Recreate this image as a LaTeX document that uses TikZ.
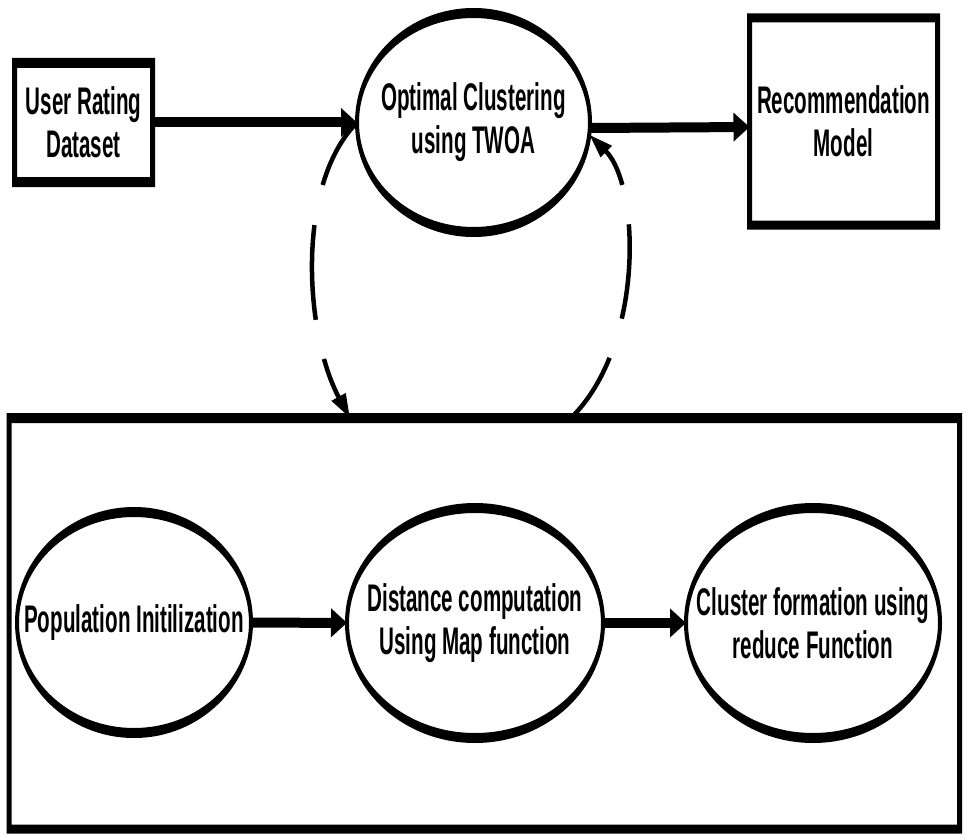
\documentclass[tikz,border=0pt]{standalone}
\usepackage{fontspec}
\usepackage{tikz}
\usetikzlibrary{shapes}
\usetikzlibrary{arrows.meta}
\newfontfamily\diafont{Liberation Sans}[FakeStretch=0.535]
\newcommand{\diagfont}{\diafont\bfseries\fontsize{38.5}{43}\selectfont}
\tikzset{
  boxnode/.style={rectangle, inner sep=0pt, outer sep=0pt, align=center, font=\diagfont},
  ellnode/.style={ellipse, inner xsep=-40pt, inner ysep=0pt, outer sep=0pt, align=center, font=\diagfont},
  flow/.style={-{Triangle[length=16pt,width=28pt]}, line width=10pt},
  loopline/.style={-{Triangle[length=24pt,width=15pt]}, line width=4.5pt,
    dash pattern=on 72pt off 41pt on 95pt off 40pt on 160pt off 10pt},
}
\begin{document}
\begin{tikzpicture}[x=1pt,y=-1pt]
    \useasboundingbox (0,0) rectangle (969,840);
          % top row
          \node [boxnode, minimum width=138pt, minimum height=119pt] (urd) at (83.5,122.5) {User Rating\\Dataset};
          \node [ellnode, minimum width=233pt, minimum height=219pt] (ocl) at (473.5,122.5) {Optimal Clustering\\using TWOA};
          \node [boxnode, minimum width=188pt, minimum height=207pt] (rec) at (843.5,121.5) {Recommendation\\Model};

          % inner process
          \node [boxnode, minimum width=950.5pt, minimum height=411pt] (sub) at (484.25,623.5) {};
          \node [ellnode, minimum width=234pt, minimum height=221pt] (pop) at (134,622.5) {Population Initilization};
          \node [ellnode, minimum width=256pt, minimum height=230pt] (dist) at (475,623) {Distance computation\\Using Map function};
          \node [ellnode, minimum width=254pt, minimum height=230pt] (clus) at (813,623) {Cluster formation using\\reduce Function};

          % outlines, thick at top and bottom
          \fill [even odd rule] ([xshift=-2.5pt,yshift=5pt]urd.north west) rectangle ([xshift=2.5pt,yshift=-5pt]urd.south east)
                ([xshift=2.5pt,yshift=-5pt]urd.north west) rectangle ([xshift=-2.5pt,yshift=5pt]urd.south east);
          \fill [even odd rule] ([xshift=-2.5pt,yshift=4.5pt]rec.north west) rectangle ([xshift=2.5pt,yshift=-4.5pt]rec.south east)
                ([xshift=2.5pt,yshift=-4.5pt]rec.north west) rectangle ([xshift=-2.5pt,yshift=4.5pt]rec.south east);
          \fill [even odd rule] ([xshift=-2.5pt,yshift=5pt]sub.north west) rectangle ([xshift=2.5pt,yshift=-4.5pt]sub.south east)
                ([xshift=2.5pt,yshift=-5pt]sub.north west) rectangle ([xshift=-2.5pt,yshift=4.5pt]sub.south east);
          \fill [even odd rule] (ocl) ellipse [x radius=118.5pt, y radius=114.5pt] (ocl) ellipse [x radius=114.5pt, y radius=104.5pt];
          \fill [even odd rule] (pop) ellipse [x radius=119pt, y radius=115.5pt] (pop) ellipse [x radius=115pt, y radius=105.5pt];
          \fill [even odd rule] (dist) ellipse [x radius=130pt, y radius=120pt] (dist) ellipse [x radius=126pt, y radius=110pt];
          \fill [even odd rule] (clus) ellipse [x radius=129pt, y radius=120pt] (clus) ellipse [x radius=125pt, y radius=110pt];

        \draw [flow] (urd) -- (ocl);
        \draw [flow] ([yshift=-5.5pt]ocl.east) -- ([yshift=-5.5pt]rec.west);
        \draw [flow] (pop) -- (dist);
        \draw [flow] (dist) -- (clus);

        \draw [loopline] (ocl.west) .. controls (295,185) and (305,335) .. ([xshift=341pt]sub.north west);
        \draw [loopline] ([xshift=562pt]sub.north west) .. controls (645,345) and (640,185) .. (ocl.-6);
    \end{tikzpicture}
\end{document}
